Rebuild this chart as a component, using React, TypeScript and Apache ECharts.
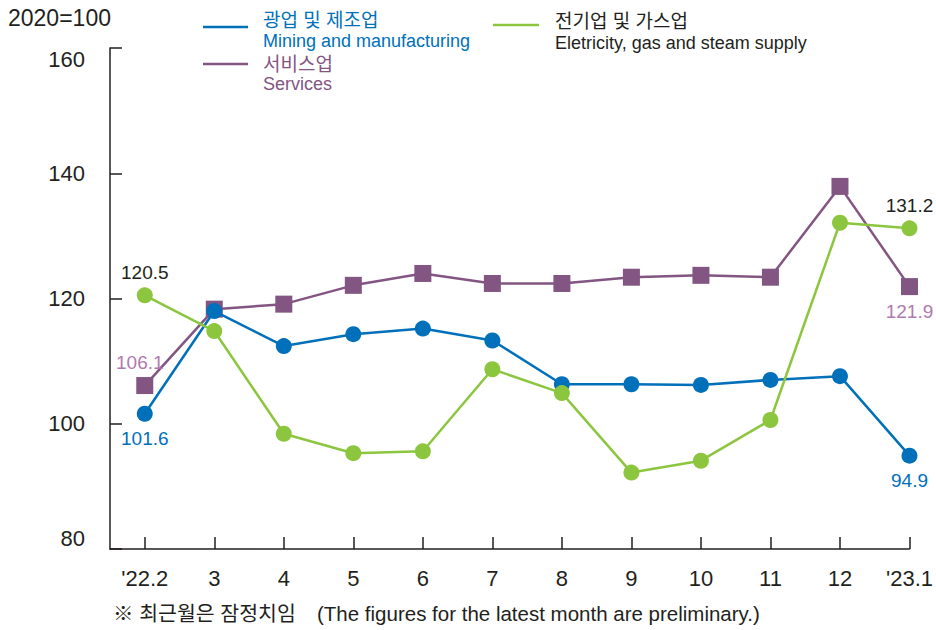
import React, { useEffect, useRef } from "react";
import * as echarts from "echarts";

const categories = ["'22.2", "3", "4", "5", "6", "7", "8", "9", "10", "11", "12", "'23.1"];
const mining = [101.6, 118.0, 112.4, 114.3, 115.2, 113.3, 106.3, 106.3, 106.2, 107.0, 107.6, 94.9];
const services = [106.1, 118.3, 119.1, 122.1, 124.0, 122.4, 122.4, 123.4, 123.7, 123.4, 137.9, 121.9];
const electricity = [120.5, 114.8, 98.4, 95.3, 95.6, 108.7, 104.9, 92.2, 94.1, 100.6, 132.1, 131.2];
const yTicks = [80, 100, 120, 140, 160];

const BLUE = "#0070BA";
const PURPLE = "#835582";
const PURPLE_LABEL = "#B07AB0";
const GREEN = "#8CC63F";
const DARK = "#231F20";
const FONT = "'Liberation Sans', Arial, 'Noto Sans CJK KR', sans-serif";

function buildData(values: number[], labelColor: string, firstPos: string, lastPos: string, firstDx = 0) {
  const last = values.length - 1;
  return values.map((v, i) => {
    const item: any = { value: [i, v] };
    if (i === 0 || i === last) {
      const pos = i === 0 ? firstPos : lastPos;
      item.label = {
        show: true,
        position: pos,
        distance: pos === "top" ? 5 : 7,
        offset: [i === 0 ? firstDx : 0, 0],
        color: labelColor,
        fontSize: 19,
        fontFamily: FONT,
        formatter: (p: any) => p.value[1].toFixed(1),
      };
    }
    return item;
  });
}

export default function App() {
  const ref = useRef<HTMLDivElement>(null);
  useEffect(() => {
    if (!ref.current) return;
    const chart = echarts.init(ref.current, null, { renderer: "svg" });
    const idx = categories.map((_, i) => i);
    chart.setOption({
      animation: false,
      backgroundColor: "#ffffff",
      textStyle: { fontFamily: FONT },
      grid: { left: 110, right: 26, top: 48, bottom: 81, containLabel: false },
      xAxis: {
        type: "value",
        min: -0.5,
        max: 11,
        axisLine: { show: true, onZero: false, lineStyle: { color: DARK, width: 1.5 } },
        axisTick: { show: true, inside: true, length: 12, customValues: idx, lineStyle: { color: DARK, width: 1.5 } },
        axisLabel: {
          customValues: idx,
          formatter: (v: number) => categories[Math.round(v)],
          color: DARK,
          fontSize: 22,
          margin: 18,
          fontFamily: FONT,
        },
        splitLine: { show: false },
      },
      yAxis: {
        type: "value",
        min: yTicks[0],
        max: yTicks[yTicks.length - 1],
        interval: 20,
        axisLine: { show: true, onZero: false, lineStyle: { color: DARK, width: 1.5 } },
        axisTick: { show: true, inside: true, length: 12, lineStyle: { color: DARK, width: 1.5 } },
        axisLabel: {
          color: DARK,
          fontSize: 22,
          margin: 25,
          fontFamily: FONT,
          verticalAlignMinLabel: "bottom",
          verticalAlignMaxLabel: "top",
        },
        splitLine: { show: false },
      },
      series: [
        {
          name: "Services",
          type: "line",
          data: buildData(services, PURPLE_LABEL, "top", "bottom", -5),
          symbol: "rect",
          symbolSize: 17,
          lineStyle: { color: PURPLE, width: 2.5 },
          itemStyle: { color: PURPLE },
          z: 2,
        },
        {
          name: "Mining",
          type: "line",
          data: buildData(mining, BLUE, "bottom", "bottom"),
          symbol: "circle",
          symbolSize: 16,
          lineStyle: { color: BLUE, width: 2.5 },
          itemStyle: { color: BLUE },
          z: 3,
        },
        {
          name: "Electricity",
          type: "line",
          data: buildData(electricity, DARK, "top", "top"),
          symbol: "circle",
          symbolSize: 16,
          lineStyle: { color: GREEN, width: 2.5 },
          itemStyle: { color: GREEN },
          z: 4,
        },
      ],
      graphic: [
        { type: "text", x: 8, y: 18, style: { text: "2020=100", fontSize: 23, fill: DARK, fontFamily: FONT, verticalAlign: "middle" } },
        { type: "line", shape: { x1: 203, y1: 27, x2: 248, y2: 27 }, style: { stroke: BLUE, lineWidth: 2.5 } },
        { type: "text", x: 263, y: 20, style: { text: "광업 및 제조업", fontSize: 19, fill: BLUE, fontFamily: FONT, verticalAlign: "middle" } },
        { type: "text", x: 263, y: 41, style: { text: "Mining and manufacturing", fontSize: 18, fill: BLUE, fontFamily: FONT, verticalAlign: "middle" } },
        { type: "line", shape: { x1: 203, y1: 64, x2: 248, y2: 64 }, style: { stroke: PURPLE, lineWidth: 2.5 } },
        { type: "text", x: 263, y: 64, style: { text: "서비스업", fontSize: 19, fill: PURPLE, fontFamily: FONT, verticalAlign: "middle" } },
        { type: "text", x: 263, y: 84, style: { text: "Services", fontSize: 18, fill: PURPLE, fontFamily: FONT, verticalAlign: "middle" } },
        { type: "line", shape: { x1: 493, y1: 25, x2: 539, y2: 25 }, style: { stroke: GREEN, lineWidth: 2.5 } },
        { type: "text", x: 555, y: 21, style: { text: "전기업 및 가스업", fontSize: 19, fill: DARK, fontFamily: FONT, verticalAlign: "middle" } },
        { type: "text", x: 555, y: 43, style: { text: "Eletricity, gas and steam supply", fontSize: 18, fill: DARK, fontFamily: FONT, verticalAlign: "middle" } },
        { type: "text", x: 113, y: 613, style: { text: "※ 최근월은 잠정치임", fontSize: 20.5, fill: DARK, fontFamily: FONT, verticalAlign: "middle" } },
        { type: "text", x: 317, y: 613, style: { text: "(The figures for the latest month are preliminary.)", fontSize: 20.5, fill: DARK, fontFamily: FONT, verticalAlign: "middle" } },
      ],
    });
    return () => chart.dispose();
  }, []);
  return <div ref={ref} style={{ width: 936, height: 630, position: "absolute", left: 0, top: 0 }} />;
}
